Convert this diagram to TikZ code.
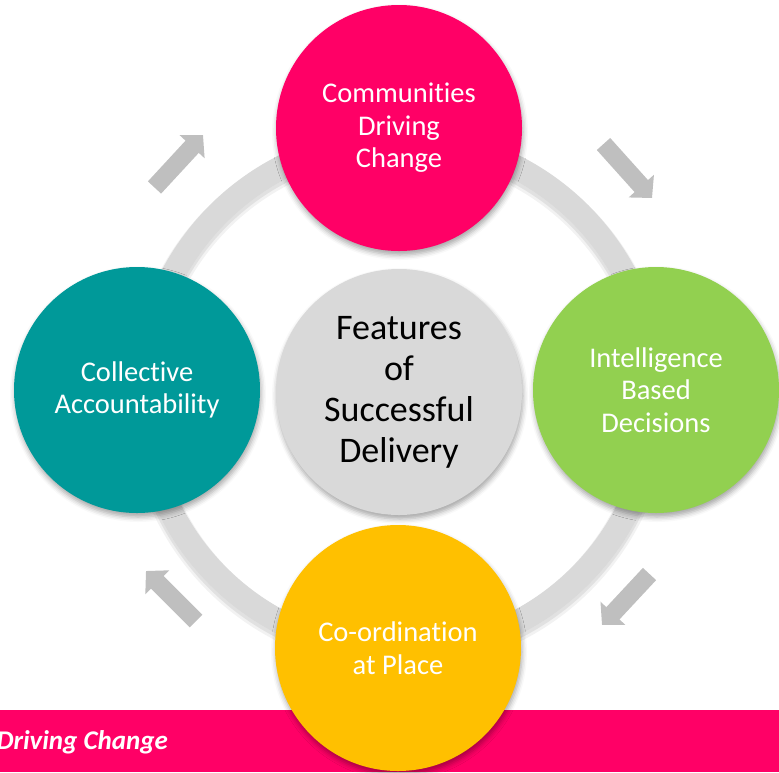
\documentclass[tikz,border=0pt]{standalone}
\usepackage{fontspec}
\setmainfont{Carlito}[Ligatures={NoCommon},RawFeature={-liga}]
\usetikzlibrary{arrows.meta,shadows.blur}
\definecolor{pinkc}{HTML}{FF0066}
\definecolor{greenc}{HTML}{92D050}
\definecolor{tealc}{HTML}{009999}
\definecolor{goldc}{HTML}{FFC000}
\definecolor{ringc}{HTML}{D9D9D9}
\definecolor{arrowc}{HTML}{BFBFBF}
\begin{document}
\begin{tikzpicture}[x=1pt,y=-1pt,
  petal/.style={circle, minimum size=246pt, inner sep=0pt, align=center, text=white,
    font=\fontsize{28.5}{32.5}\selectfont,
    blur shadow={shadow xshift=1pt, shadow yshift=-4pt, shadow blur radius=5pt, shadow opacity=35}},
  hub/.style={petal, fill=ringc, text=black, font=\fontsize{36}{41}\selectfont},
  flow/.style={draw=arrowc, line width=18pt, -{Triangle[length=16pt,width=33pt,fill=arrowc]}}]
\useasboundingbox (0,0) rectangle (779,772);
\clip (0,0) rectangle (779,772);
% bottom bar
\node[fill=pinkc, minimum width=779pt, minimum height=62pt, anchor=north west, inner sep=0pt] (bar) at (0,710) {};
\node[anchor=base east, text=white, inner sep=0pt, font=\fontsize{27}{30}\selectfont\bfseries\itshape] (bartext) at (168,749) {Driving Change};
% ring
\coordinate (rc) at (399,395);
\draw[black, opacity=0.05, line width=30pt] ([yshift=-4pt]rc) circle[radius=256pt];
\draw[black, opacity=0.07, line width=26pt] ([yshift=-3pt]rc) circle[radius=256pt];
\draw[ringc, line width=24pt] (rc) circle[radius=256pt];
% circles
\node[petal, fill=pinkc] (top) at (399,128) {Communities\\Driving\\Change};
\node[petal, fill=greenc] (right) at (656,390) {Intelligence\\Based\\Decisions};
\node[petal, fill=goldc] (bottom) at (398,648) {Co-ordination\\at Place};
\node[petal, fill=tealc] (left) at (137,390) {Collective\\Accountability};
\node[hub] (hub) at (399,392) {Features\\of\\Successful\\Delivery};
% arrows
\coordinate (a1s) at (154.5,187.5); \coordinate (a1e) at (203,135);
\coordinate (a2s) at (603.5,144); \coordinate (a2e) at (652,198);
\coordinate (a3s) at (649.5,574); \coordinate (a3e) at (602,625);
\coordinate (a4s) at (196,621); \coordinate (a4e) at (146,571);
\draw[flow] (a1s) -- (a1e);
\draw[flow] (a2s) -- (a2e);
\draw[flow] (a3s) -- (a3e);
\draw[flow] (a4s) -- (a4e);
\end{tikzpicture}
\end{document}
